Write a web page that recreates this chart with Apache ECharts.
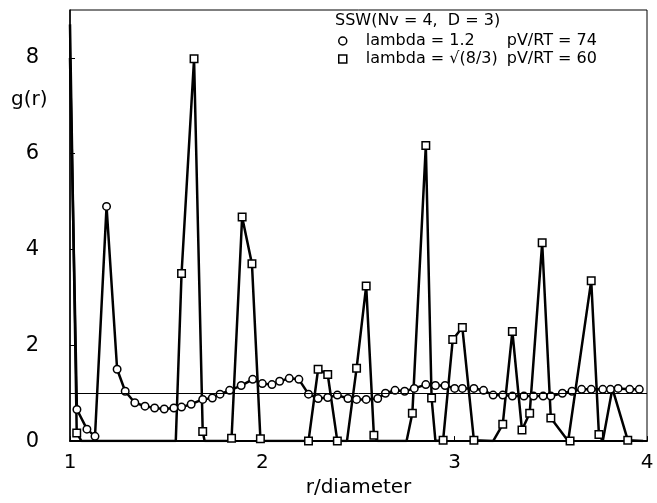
<!DOCTYPE html>
<html>
<head>
<meta charset="utf-8">
<script src="https://cdn.jsdelivr.net/npm/echarts@6/dist/echarts.min.js"></script>
<style>
  html, body { margin: 0; padding: 0; background: #fff; }
  #main { width: 657px; height: 503px; }
</style>
</head>
<body>
<div id="main"></div>
<script>
// g(r) for lambda = 1.2, pV/RT = 74 (every point drawn with a circle)
var circX = [1.0, 1.036, 1.088, 1.13, 1.19, 1.245, 1.287, 1.337, 1.39, 1.44, 1.49, 1.54, 1.58, 1.63, 1.69, 1.74, 1.78, 1.83, 1.89, 1.95,
             2.0, 2.05, 2.09, 2.14, 2.19, 2.24, 2.29, 2.34, 2.39, 2.445, 2.49, 2.54, 2.6, 2.64, 2.69, 2.74, 2.79, 2.85, 2.9, 2.95,
             3.0, 3.04, 3.1, 3.15, 3.2, 3.25, 3.3, 3.36, 3.41, 3.46, 3.5, 3.56, 3.61, 3.66, 3.71, 3.77, 3.81, 3.85, 3.91, 3.96];
var circY = [8.0, 0.66, 0.25, 0.1, 4.9, 1.5, 1.04, 0.8, 0.73, 0.69, 0.67, 0.69, 0.71, 0.77, 0.87, 0.9, 0.98, 1.06, 1.16, 1.29,
             1.2, 1.18, 1.25, 1.31, 1.29, 0.98, 0.89, 0.91, 0.96, 0.89, 0.87, 0.87, 0.89, 1.0, 1.06, 1.04, 1.1, 1.18, 1.16, 1.16,
             1.1, 1.1, 1.1, 1.06, 0.96, 0.96, 0.94, 0.94, 0.94, 0.94, 0.94, 1.0, 1.04, 1.08, 1.08, 1.08, 1.08, 1.1, 1.08, 1.08];

// g(r) for lambda = sqrt(8/3), pV/RT = 60 (curve vertices)
var sqX = [1.0, 1.035, 1.06, 1.55, 1.58, 1.645, 1.69, 1.70, 1.83, 1.84, 1.895, 1.946, 1.99, 2.0, 2.24, 2.29, 2.34, 2.39, 2.44, 2.49,
           2.54, 2.58, 2.6, 2.75, 2.78, 2.85, 2.88, 2.9, 2.94, 2.99, 3.04, 3.1, 3.2, 3.25, 3.30, 3.35, 3.39, 3.455, 3.5, 3.59,
           3.6, 3.71, 3.75, 3.77, 3.82, 3.9, 3.98];
var sqY = [8.7, 0.17, 0.0, 0.0, 3.5, 7.98, 0.2, 0.0, 0.0, 0.06, 4.68, 3.7, 0.05, 0.0, 0.0, 1.5, 1.39, 0.0, 0.0, 1.52,
           3.24, 0.12, 0.0, 0.0, 0.58, 6.17, 0.9, 0.0, 0.02, 2.12, 2.37, 0.02, 0.0, 0.35, 2.29, 0.23, 0.58, 4.14, 0.48, 0.0,
           0.0, 3.35, 0.14, 0.0, 1.1, 0.02, 0.0];
// which vertices carry a square
var sqMarked = [1, 4, 5, 6, 9, 10, 11, 12, 14, 15, 16, 17, 19, 20, 21, 24, 25, 26, 28, 29, 30, 31, 33, 34, 35, 36, 37, 38, 40, 41, 42, 45];

var legendNames = ['lambda = 1.2', 'lambda = \u221A(8/3)'];
var legendPV = [74, 60];

var circData = [];
for (var i = 0; i < circX.length; i++) {
    var d = { value: [circX[i], circY[i]] };
    if (i == 0) d.symbol = 'none';
    circData.push(d);
}
var sqData = [];
for (var j = 0; j < sqX.length; j++) {
    var p = { value: [sqX[j], sqY[j]] };
    if (sqMarked.indexOf(j) < 0) p.symbol = 'none';
    sqData.push(p);
}

var font = 'DejaVu Sans';
var markStyle = { color: '#fff', borderColor: '#000', borderWidth: 1.5 };
var option = {
    animation: false,
    backgroundColor: '#fff',
    title: {
        text: 'SSW(Nv = 4,  D = 3)',
        left: 330, top: 8,
        textStyle: { fontFamily: font, fontSize: 16, fontWeight: 'normal', color: '#000' }
    },
    legend: {
        orient: 'vertical',
        left: 333, top: 28,
        itemWidth: 8, itemHeight: 8,
        itemGap: 2,
        data: [
            { name: legendNames[0], icon: 'circle', itemStyle: markStyle },
            { name: legendNames[1], icon: 'rect', itemStyle: markStyle }
        ],
        formatter: function (name) {
            var k = legendNames.indexOf(name);
            return '{a|' + name + '}{b|pV/RT = ' + legendPV[k] + '}';
        },
        textStyle: {
            fontFamily: font, fontSize: 16, color: '#000',
            rich: {
                a: { width: 141, fontFamily: font, fontSize: 16, padding: [0, 0, 0, 14] },
                b: { fontFamily: font, fontSize: 16 }
            }
        }
    },
    graphic: [{
        type: 'text', left: 11, top: 90,
        style: { text: 'g(r)', font: '20px "DejaVu Sans"', fill: '#000' }
    }],
    grid: { left: 70, right: 10, top: 10, bottom: 58, show: true, borderColor: '#000', borderWidth: 1 },
    xAxis: {
        type: 'value', min: 1, max: 4, interval: 1,
        name: 'r/diameter', nameLocation: 'middle', nameGap: 34,
        nameTextStyle: { fontFamily: font, fontSize: 20, color: '#000' },
        axisLine: { lineStyle: { color: '#000', width: 2 } },
        axisTick: { inside: true, length: 5, lineStyle: { color: '#000' } },
        axisLabel: { fontFamily: font, fontSize: 20, color: '#000', margin: 12 },
        splitLine: { show: false }
    },
    yAxis: {
        type: 'value', min: 0, max: 9, interval: 2,
        axisLine: { show: true, lineStyle: { color: '#000', width: 1.5 } },
        axisTick: { show: true, inside: true, length: 5, lineStyle: { color: '#000' } },
        axisLabel: { fontFamily: font, fontSize: 21, color: '#000', margin: 31, showMaxLabel: false },
        splitLine: { show: false }
    },
    series: [
        {
            name: legendNames[0], type: 'line', data: circData,
            symbol: 'circle', symbolSize: 7.5,
            itemStyle: markStyle,
            lineStyle: { color: '#000', width: 2.5 },
            markLine: {
                silent: true, symbol: 'none', label: { show: false },
                lineStyle: { color: '#000', width: 1, type: 'solid' },
                data: [{ yAxis: 1 }]
            },
            z: 3
        },
        {
            name: legendNames[1], type: 'line', data: sqData,
            symbol: 'rect', symbolSize: 7.5,
            itemStyle: markStyle,
            lineStyle: { color: '#000', width: 2.5 },
            z: 2
        }
    ]
};

var myChart = echarts.init(document.getElementById('main'));
myChart.setOption(option);
</script>
</body>
</html>
